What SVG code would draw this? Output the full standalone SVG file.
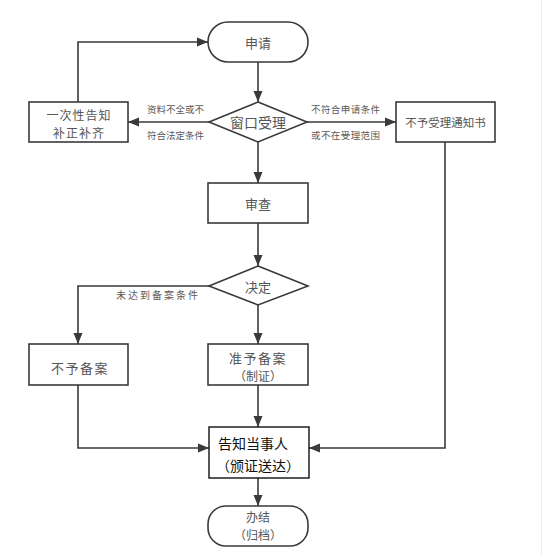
<svg xmlns="http://www.w3.org/2000/svg" width="546" height="560" viewBox="0 0 546 560">
<defs>
<marker id="arr" markerUnits="userSpaceOnUse" markerWidth="12" markerHeight="10" refX="11" refY="5" orient="auto">
<path d="M0,0.5 L11,5 L0,9.5 Z" fill="#3a3a3a"/>
</marker>
<style>
.n{fill:#fff;stroke:#3a3a3a;stroke-width:1.6}
.t{font-family:"Noto Sans CJK SC","Noto Sans",sans-serif;fill:#555;text-anchor:middle;dominant-baseline:central}
.l{font-family:"Noto Sans CJK SC","Noto Sans",sans-serif;fill:#5a5a5a;font-size:9.5px;dominant-baseline:central}
.c{fill:none;stroke:#3a3a3a;stroke-width:1.6;marker-end:url(#arr)}
</style>
</defs>
<rect width="546" height="560" fill="#fff"/>
<line x1="541.5" y1="0" x2="541.5" y2="555" stroke="#e6ecf7" stroke-width="1"/>
<g id="connectors">
<path class="c" d="M258,62 V102"/>
<path class="c" d="M209,122 H128"/>
<path class="c" d="M307,122 H396"/>
<path class="c" d="M258,142 V183"/>
<path class="c" d="M78,102 V42 H208"/>
<path class="c" d="M258,223 V266"/>
<path class="c" d="M209,286 H78 V344"/>
<path class="c" d="M258,305 V344"/>
<path class="c" d="M78,385 V448 H209"/>
<path class="c" d="M258,385 V427"/>
<path class="c" d="M445,142 V448 H309"/>
<path class="c" d="M258,478 V506"/>
<text class="l" x="147" y="109" textLength="57">资料不全或不</text>
<text class="l" x="147" y="135" textLength="57">符合法定条件</text>
<text class="l" x="311" y="109" textLength="69">不符合申请条件</text>
<text class="l" x="311" y="135" textLength="69">或不在受理范围</text>
<text class="l" x="116" y="294" textLength="82" style="font-size:10px">未达到备案条件</text>
</g>
<g id="shenqing">
<rect class="n" x="208" y="22" width="100" height="40" rx="20"/>
<text class="t" x="258" y="42" font-size="13">申请</text>
</g>
<g id="chuangkou">
<polygon class="n" points="258,102 307,122 258,142 209,122"/>
<text class="t" x="258" y="122" font-size="14">窗口受理</text>
</g>
<g id="buzheng">
<rect class="n" x="29" y="102" width="99" height="40"/>
<text class="t" x="79" y="114.5" font-size="12" letter-spacing="1">一次性告知</text>
<text class="t" x="79" y="132.5" font-size="12" letter-spacing="1">补正补齐</text>
</g>
<g id="buyushouli">
<rect class="n" x="396" y="102" width="99" height="40"/>
<text class="t" x="445.5" y="122" font-size="11.5">不予受理通知书</text>
</g>
<g id="shencha">
<rect class="n" x="208" y="183" width="100" height="40"/>
<text class="t" x="258" y="203" font-size="13">审查</text>
</g>
<g id="jueding">
<polygon class="n" points="258,266 308,286 258,305 209,286"/>
<text class="t" x="258" y="286" font-size="13">决定</text>
</g>
<g id="buyubeian">
<rect class="n" x="29" y="344" width="99" height="41"/>
<text class="t" x="80" y="367" font-size="13" letter-spacing="1.5">不予备案</text>
</g>
<g id="zhunyubeian">
<rect class="n" x="208" y="344" width="100" height="41"/>
<text class="t" x="258" y="357" font-size="13" letter-spacing="1.5">准予备案</text>
<text class="t" x="258" y="375" font-size="12">（制证）</text>
</g>
<g id="gaozhi">
<rect x="209" y="427" width="100" height="51" fill="#fff" stroke="#111" stroke-width="1.4"/>
<text x="218" y="443" font-size="14" fill="#111" dominant-baseline="central" font-family="Noto Sans CJK SC, sans-serif">告知当事人</text>
<text x="258" y="465" font-size="14" fill="#111" text-anchor="middle" dominant-baseline="central" font-family="Noto Sans CJK SC, sans-serif">（颁证送达）</text>
</g>
<g id="banjie">
<rect class="n" x="208" y="506" width="100" height="40" rx="18"/>
<text class="t" x="258" y="516" font-size="12">办结</text>
<text class="t" x="258" y="534" font-size="12">（归档）</text>
</g>
</svg>
